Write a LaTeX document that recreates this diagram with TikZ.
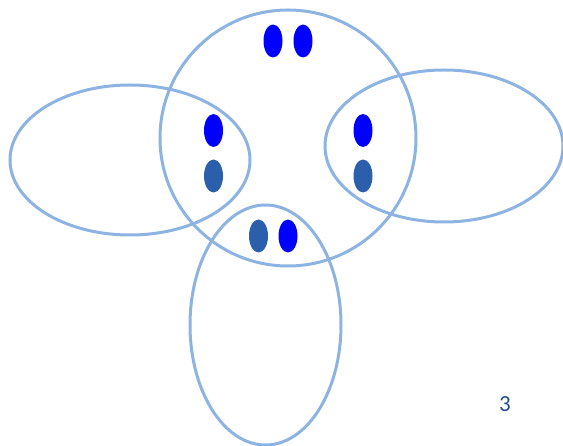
\documentclass[tikz,border=0pt]{standalone}
\usepackage{fontspec}
\setmainfont{Carlito}
\usepackage{tikz}

\definecolor{ringblue}{HTML}{8DB3E2}
\definecolor{dotblue}{HTML}{0000FF}
\definecolor{dotdark}{HTML}{2B5EAB}
\definecolor{numblue}{HTML}{1F4E8C}

\begin{document}
\begin{tikzpicture}[
  x=1pt,y=-1pt,
  % outlines of the four sets
  ring/.style={draw=ringblue,line width=3pt},
  bright/.style={fill=dotblue},
  dark/.style={fill=dotdark},
  lbl/.style={font=\fontsize{23}{27}\selectfont,text=numblue},
]
\useasboundingbox (0,0) rectangle (563,446);

%--- geometry ----------------------------------------------------------------
\def\dotrx{9.5}      % half width of a dot
\def\dotry{16.5}     % half height of a dot

%--- the sets ----------------------------------------------------------------
\draw[ring] (288,138) circle [radius=128];
\draw[ring] (130,160) ellipse [x radius=120,y radius=75];
\draw[ring] (444,146) ellipse [x radius=119,y radius=76];
\draw[ring] (265.5,325) ellipse [x radius=75.5,y radius=120];

%--- the dots ----------------------------------------------------------------
\foreach \px/\py in {273/41,303/41,213.5/130.5,363/130.5,288/236}
  \fill[bright] (\px,\py) ellipse [x radius=\dotrx,y radius=\dotry];
\foreach \px/\py in {213.5/176,363/176,258.5/236}
  \fill[dark] (\px,\py) ellipse [x radius=\dotrx,y radius=\dotry];

\node[lbl] (pagenum) at (505,404) {3};

\end{tikzpicture}
\end{document}
